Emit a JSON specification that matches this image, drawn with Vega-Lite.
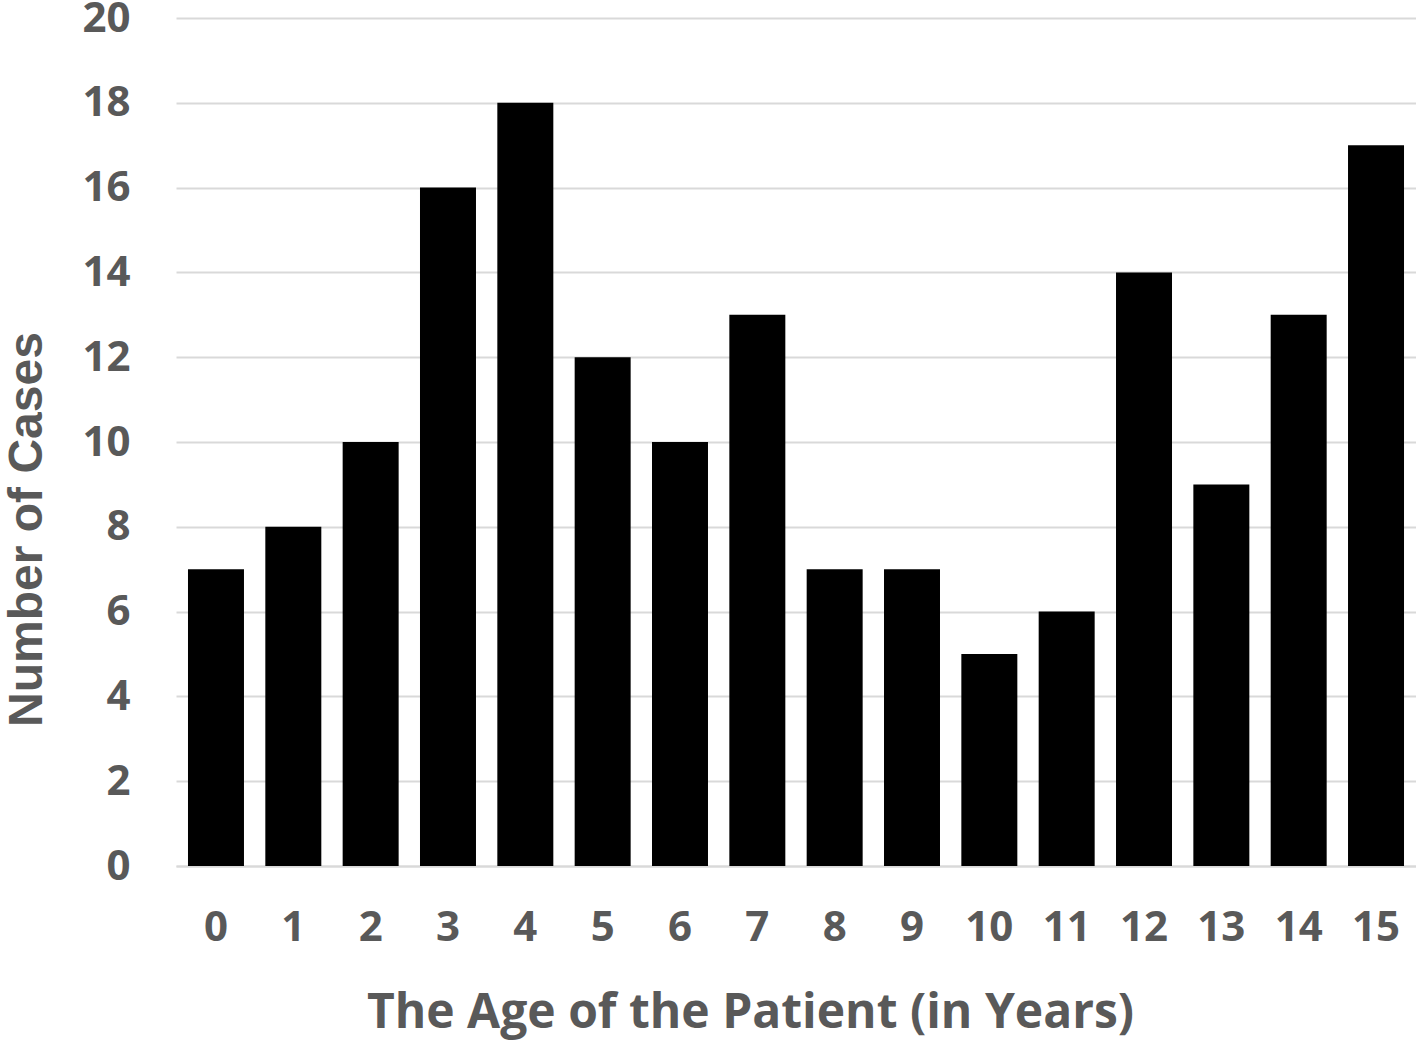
{
  "$schema": "https://vega.github.io/schema/vega-lite/v6.json",
  "autosize": "none",
  "padding": {"left": 176, "top": 18, "right": 0, "bottom": 182},
  "width": 1240,
  "height": 848,
  "background": "white",
  "data": {"values": [
    {"age": "0", "cases": 7},
    {"age": "1", "cases": 8},
    {"age": "2", "cases": 10},
    {"age": "3", "cases": 16},
    {"age": "4", "cases": 18},
    {"age": "5", "cases": 12},
    {"age": "6", "cases": 10},
    {"age": "7", "cases": 13},
    {"age": "8", "cases": 7},
    {"age": "9", "cases": 7},
    {"age": "10", "cases": 5},
    {"age": "11", "cases": 6},
    {"age": "12", "cases": 14},
    {"age": "13", "cases": 9},
    {"age": "14", "cases": 13},
    {"age": "15", "cases": 17}
  ]},
  "mark": {"type": "bar", "color": "black"},
  "encoding": {
    "x": {
      "field": "age", "type": "ordinal", "sort": null,
      "scale": {"paddingInner": 0.276, "paddingOuter": 0.155},
      "axis": {
        "title": "The Age of the Patient (in Years)",
        "labelAngle": 0,
        "labelFont": "Open Sans", "labelFontWeight": "bold", "labelFontSize": 42, "labelColor": "#595959",
        "labelBaseline": "alphabetic", "labelPadding": 74,
        "ticks": false, "tickSize": 0,
        "domain": true, "domainColor": "#d9d9d9", "domainWidth": 2,
        "titleFont": "Open Sans", "titleFontWeight": "bold", "titleFontSize": 48, "titleColor": "#595959",
        "titleX": 574, "titleY": 161, "titleBaseline": "alphabetic", "titleAlign": "center"
      }
    },
    "y": {
      "field": "cases", "type": "quantitative",
      "scale": {"domain": [0, 20], "nice": false},
      "axis": {
        "title": "Number of Cases",
        "values": [0, 2, 4, 6, 8, 10, 12, 14, 16, 18, 20],
        "labelFont": "Open Sans", "labelFontWeight": "bold", "labelFontSize": 42, "labelColor": "#595959",
        "labelPadding": 46,
        "ticks": false, "tickSize": 0,
        "domain": false,
        "grid": true, "gridColor": "#d9d9d9", "gridWidth": 2,
        "titleFont": "Liberation Sans", "titleFontWeight": "bold", "titleFontSize": 48, "titleColor": "#595959",
        "titleAngle": -90, "titleX": -135, "titleY": 511, "titleBaseline": "alphabetic", "titleAlign": "center"
      }
    }
  },
  "config": {"view": {"stroke": null}}
}
